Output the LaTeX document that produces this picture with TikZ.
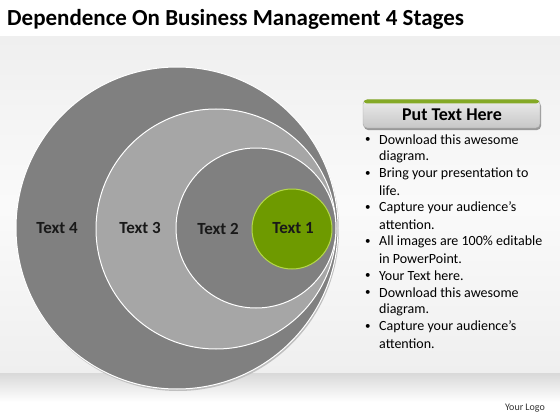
\documentclass[tikz,border=0pt]{standalone}
\usepackage{fontspec}
\setmainfont{Carlito}
\usetikzlibrary{shadows}
\definecolor{darkg}{HTML}{808080}
\definecolor{lightg}{HTML}{A6A6A6}
\definecolor{leaf}{HTML}{6E9A00}
\definecolor{leafedge}{HTML}{B5D84A}
\definecolor{panel}{HTML}{EFEFEF}
\tikzset{
  ring/.style={draw=white, line width=1pt},
  lbl/.style={font=\fontsize{17}{19}\selectfont\bfseries, text=black!90, inner sep=0pt},
  bullettext/.style={font=\fontsize{14}{17}\selectfont, anchor=west, inner sep=0pt},
  dot/.style={font=\fontsize{11}{17}\selectfont, anchor=west, inner sep=0pt}
}
\begin{document}
\begin{tikzpicture}[x=1pt,y=-1pt]
\useasboundingbox (0,0) rectangle (560,420);
% background
\fill[white] (0,0) rectangle (560,420);
\shade[top color=panel, bottom color=white!70!panel] (0,37) rectangle (560,205);
\shade[top color=white!70!panel, bottom color=panel] (0,205) rectangle (560,373);
\shade[top color=black!15, bottom color=white] (0,373) rectangle (560,402);
% title
\node[anchor=west, inner sep=0pt, font=\fontsize{23}{27}\selectfont\bfseries] (title) at (7,19) {Dependence On Business Management 4 Stages};
% circles
\fill[black!25] (178,230) circle (161);
\filldraw[ring, fill=darkg] (177,228) circle (161);
\filldraw[ring, fill=lightg] (216,229) circle (120);
\filldraw[ring, fill=darkg] (256,228) circle (80);
\filldraw[draw=leafedge, line width=1pt, fill=leaf] (292,229) circle (40);
\node[lbl] (t4) at (57,228) {Text 4};
\node[lbl] (t3) at (140,228) {Text 3};
\node[lbl] (t2) at (218,229) {Text 2};
\node[lbl] (t1) at (293,228) {Text 1};
% header box
\fill[black!40, rounded corners=4pt] (364,102) rectangle (541,130);
\shade[rounded corners=4pt, top color=black!8, bottom color=black!22, draw=black!35] (363,100) rectangle (540,128);
\fill[leaf!85!white, rounded corners=3pt] (364,99.5) rectangle (539,103.5);
\node[font=\fontsize{18}{21}\selectfont\bfseries, inner sep=0pt] (head) at (452,115) {Put Text Here};
% bullets
\foreach \y/\t/\b in {140/Download this awesome/1, 157/diagram./0, 174/Bring your presentation to/1, 191/life./0, 208/Capture your audience’s/1, 225/attention./0, 242/All images are 100\% editable/1, 259/in PowerPoint./0, 276/Your Text here./1, 293/Download this awesome/1, 310/diagram./0, 327/Capture your audience’s/1, 344/attention./0}{
  \node[bullettext] at (379,\y) {\t};
  \ifnum\b=1 \node[dot] at (365,\y) {•}; \fi
}
% logo
\node[font=\fontsize{10}{12}\selectfont, text=black!80, inner sep=0pt] (logo) at (525,408) {Your Logo};
\end{tikzpicture}
\end{document}
